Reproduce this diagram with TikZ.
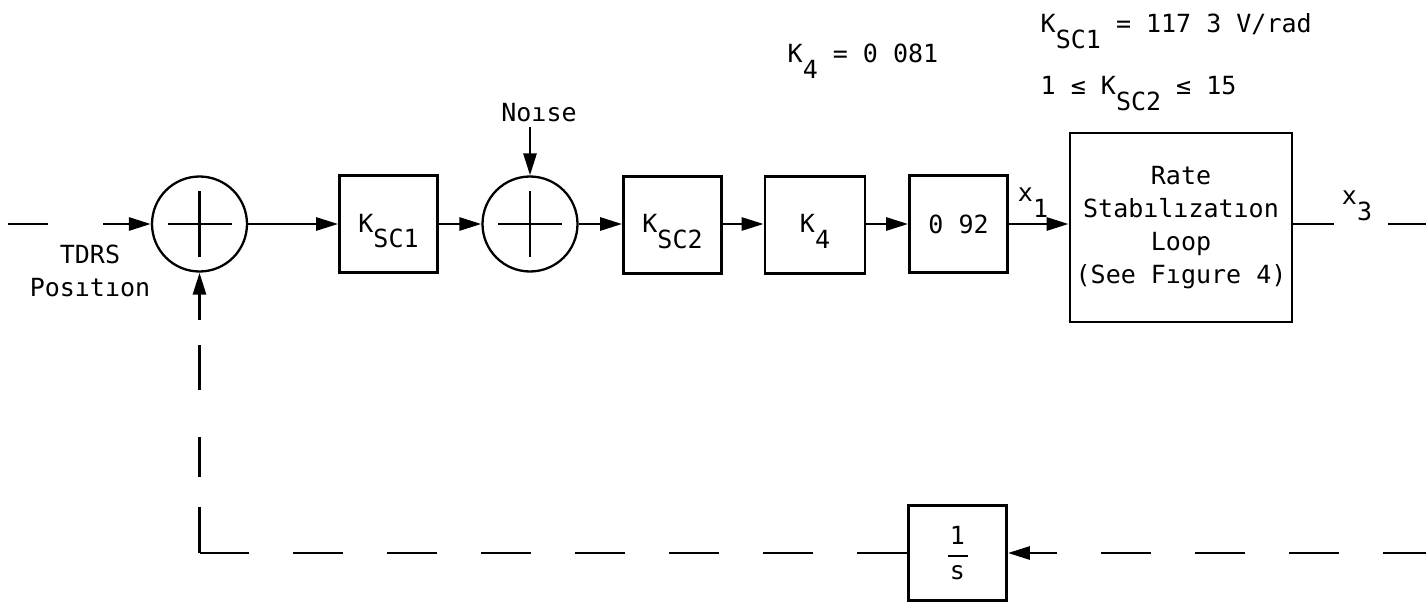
\documentclass[tikz,border=0pt]{standalone}
\usepackage{fontspec}
\setmainfont{DejaVu Sans Mono}
\usetikzlibrary{arrows.meta, calc}
\newcommand{\sub}[1]{\raisebox{-16pt}{#1}}
\newcommand{\boxsub}[2]{\raisebox{-8pt}[0pt][0pt]{#1\sub{#2}}}

\begin{document}
\begin{tikzpicture}[x=1pt, y=-1pt, line width=2.8pt, >={Triangle[length=22pt,width=13pt]},
  every node/.style={font=\fontsize{25pt}{33pt}\selectfont},
  block/.style={draw, rectangle, inner sep=0pt, minimum width=98pt, minimum height=97pt},
  sumc/.style={draw, circle, line width=2.3pt, inner sep=0pt, minimum size=95pt,
    path picture={\draw[line width=2.5pt]
      ([xshift=-32pt]path picture bounding box.center) -- ([xshift=32pt]path picture bounding box.center)
      ([yshift=-33pt]path picture bounding box.center) -- ([yshift=33pt]path picture bounding box.center);}},
  fb/.style={dash pattern=on 50pt off 44pt}]
\useasboundingbox (0,0) rectangle (1426,604);
% Summing junctions
\node[sumc] (sum1) at (199.5,224) {};
\node[sumc] (sum2) at (530,224) {};
% Forward path
\node[block] (ksc1) at (388.5,224) {\boxsub{K}{SC1}};
\node[block] (ksc2) at (672.5,225) {\boxsub{K}{SC2}};
\node[block, minimum width=100pt] (k4) at (815,225) {\boxsub{K}{4}};
\node[block] (gain) at (958.5,224) {0 92};
\node[block, minimum width=222pt, minimum height=189pt, align=center] (rate) at (1181,227.5)
  {Rate\\Stabılızatıon\\Loop\\(See Fıgure 4)};
% Feedback
\node[block, minimum height=95pt] (integ) at (957.5,553)
  {\shortstack{1\\[8pt]\rule{20pt}{1.8pt}\\[6pt]s}};
% Labels
\node[align=center] (tdrslbl) at (90,271) {TDRS\\Posıtıon};
\node (noiselbl) at (539,113) {Noıse};
\node (x1lbl) at (1033,203) {x\sub{1}};
\node (x3lbl) at (1357,206) {x\sub{3}};
\node[anchor=base west] (k4val) at (783,63) {K\sub{4} = 0 081};
\node[anchor=base west] (ksc1val) at (1036,33) {K\sub{SC1} = 117 3 V/rad};
\node[anchor=base west] (ksc2val) at (1036,95) {1 ≤ K\sub{SC2} ≤ 15};
% Connectors
\coordinate (tdrsin) at (8,224);
\coordinate (x3out) at (1426,224);
\coordinate (fbin) at (1426,553);
\coordinate (fbcorner) at (integ.west -| sum1.south);
\draw[->, dash pattern=on 40pt off 55pt] (tdrsin) -- (sum1.west);
\draw[->] (sum1) -- (ksc1);
\draw[->] (ksc1) -- (sum2);
\draw[->] (sum2) -- (ksc2.west |- sum2);
\draw[->] (ksc2.east |- sum2) -- (k4.west |- sum2);
\draw[->] (k4.east |- sum2) -- (gain);
\draw[->] (gain.east) -- (gain.east -| rate.west);
\draw[->] (noiselbl.south -| sum2.north) -- (sum2.north);
\draw[dash pattern=on 41pt off 54pt on 50pt off 50pt] (gain.east -| rate.east) -- (x3out);
\draw[->, fb, dash phase=7pt] (fbin) -- (integ.east);
\draw[fb] (integ.west) -- (fbcorner);
\draw[->, dash pattern=on 46pt off 30pt on 40pt off 47pt on 45pt off 25pt on 60pt off 10pt] (fbcorner) -- (sum1.south);
\end{tikzpicture}
\end{document}
